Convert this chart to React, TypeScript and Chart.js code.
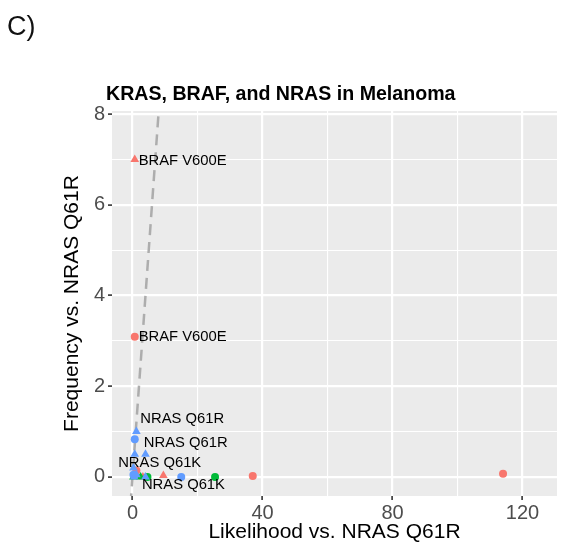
import React, { useEffect, useRef } from "react";
import { Chart, registerables } from "chart.js";

Chart.register(...registerables);

// ---- data ----
const redCircleX = [0.7, 1.2, 37, 114];
const redCircleY = [3.09, 0.14, 0.02, 0.07];
const redTriangleX = [0.7, 3.2, 9.5];
const redTriangleY = [7.0, 0.0, 0.03];
const greenCircleX = [4.6, 25.4];
const greenCircleY = [0.0, 0.0];
const greenTriangleX = [2.5, 0.3];
const greenTriangleY = [0.0, 0.0];
const blueCircleX = [0.7, 15, 0.3];
const blueCircleY = [0.83, 0.0, 0.05];
const blueTriangleX = [1.2, 0.7, 4.0, 0.3, 0.5, 4.0, 1.2];
const blueTriangleY = [1.0, 0.5, 0.5, 0.2, 0.0, 0.0, 0.05];

const labelText = ["BRAF V600E", "BRAF V600E", "NRAS Q61R", "NRAS Q61R", "NRAS Q61K", "NRAS Q61K"];
const labelX = [1.9, 1.9, 2.4, 3.5, -4.4, 2.9];
const labelY = [6.98, 3.09, 1.29, 0.755, 0.3, -0.18];

const refLineX = [-1, 9];
const refLineY = [-1, 9];

const xTicks = [0, 20, 40, 60, 80, 100, 120];
const xMajor = [0, 40, 80, 120];
const yTicks = [0, 1, 2, 3, 4, 5, 6, 7, 8];
const yMajor = [0, 2, 4, 6, 8];

const title = "KRAS, BRAF, and NRAS in Melanoma";
const panelLabel = "C)";
const xTitle = "Likelihood vs. NRAS Q61R";
const yTitle = "Frequency vs. NRAS Q61R";

const RED = "#F8766D";
const GREEN = "#00BA38";
const BLUE = "#619CFF";
const FONT = "'Liberation Sans', Arial, Helvetica, sans-serif";

const zip = (xs: number[], ys: number[]) => xs.map((x, i) => ({ x, y: ys[i] }));

export default function App() {
  const ref = useRef<HTMLCanvasElement | null>(null);

  useEffect(() => {
    if (!ref.current) return;

    const bgPlugin = {
      id: "panelBg",
      beforeDraw(chart: any) {
        const { ctx, chartArea } = chart;
        ctx.save();
        ctx.fillStyle = "#FFFFFF";
        ctx.fillRect(0, 0, chart.width, chart.height);
        ctx.fillStyle = "#EBEBEB";
        ctx.fillRect(chartArea.left, chartArea.top, chartArea.right - chartArea.left, chartArea.bottom - chartArea.top);
        ctx.fillStyle = "#111111";
        ctx.font = `27px ${FONT}`;
        ctx.textBaseline = "alphabetic";
        ctx.textAlign = "left";
        ctx.fillText(panelLabel, 7, 35);
        ctx.fillStyle = "#000000";
        ctx.font = `bold 19.6px ${FONT}`;
        ctx.fillText(title, 106, 100);
        ctx.restore();
      },
    };

    const labelPlugin = {
      id: "pointLabels",
      afterDatasetsDraw(chart: any) {
        const { ctx } = chart;
        const xs = chart.scales.x;
        const ys = chart.scales.y;
        ctx.save();
        ctx.fillStyle = "#000000";
        ctx.font = `14.8px ${FONT}`;
        ctx.textAlign = "left";
        ctx.textBaseline = "middle";
        labelText.forEach((t, i) => {
          ctx.fillText(t, xs.getPixelForValue(labelX[i]), ys.getPixelForValue(labelY[i]));
        });
        ctx.restore();
      },
    };

    const pt = (data: any, color: string, style: string) => ({
      data,
      pointStyle: style,
      pointRadius: style === "triangle" ? 5 : 4,
      pointBackgroundColor: color,
      pointBorderColor: color,
      pointBorderWidth: 0,
      backgroundColor: color,
      borderColor: color,
    });

    const chart = new Chart(ref.current, {
      type: "scatter",
      data: {
        datasets: [
          pt(zip(blueTriangleX, blueTriangleY), BLUE, "triangle"),
          pt(zip(blueCircleX, blueCircleY), BLUE, "circle"),
          pt(zip(greenTriangleX, greenTriangleY), GREEN, "triangle"),
          pt(zip(greenCircleX, greenCircleY), GREEN, "circle"),
          pt(zip(redTriangleX, redTriangleY), RED, "triangle"),
          pt(zip(redCircleX, redCircleY), RED, "circle"),
          {
            data: zip(refLineX, refLineY),
            showLine: true,
            pointRadius: 0,
            borderColor: "#ADADAD",
            borderWidth: 2.5,
            borderDash: [11, 7],
          } as any,
        ],
      },
      options: {
        animation: false,
        responsive: false,
        events: [],
        layout: { padding: { top: 111, right: 1, bottom: 0, left: 0 } },
        plugins: {
          legend: { display: false },
          tooltip: { enabled: false },
          title: { display: false },
        },
        scales: {
          x: {
            type: "linear",
            min: -6.3,
            max: 130.6,
            afterBuildTicks: (s: any) => {
              s.ticks = xTicks.map((v) => ({ value: v }));
            },
            afterFit: (s: any) => {
              s.height = 47;
            },
            border: { display: false },
            grid: {
              color: "#FFFFFF",
              lineWidth: (c: any) => (xMajor.includes(c.tick?.value) ? 2.2 : 1.1),
              tickColor: (c: any) => (xMajor.includes(c.tick?.value) ? "#333333" : "rgba(0,0,0,0)"),
              tickWidth: 1.6,
              tickLength: 4,
            },
            ticks: {
              autoSkip: false,
              maxRotation: 0,
              padding: 1,
              color: "#4D4D4D",
              font: { family: FONT, size: 20 },
              callback: (v: any) => (xMajor.includes(Number(v)) ? String(v) : ""),
            },
            title: {
              display: true,
              text: xTitle,
              color: "#000000",
              font: { family: FONT, size: 21 },
              padding: { top: 0, bottom: -2 },
            },
          },
          y: {
            type: "linear",
            min: -0.42,
            max: 8.07,
            afterBuildTicks: (s: any) => {
              s.ticks = yTicks.map((v) => ({ value: v }));
            },
            afterFit: (s: any) => {
              s.width = 112;
            },
            border: { display: false },
            grid: {
              color: "#FFFFFF",
              lineWidth: (c: any) => (yMajor.includes(c.tick?.value) ? 2.2 : 1.1),
              tickColor: (c: any) => (yMajor.includes(c.tick?.value) ? "#333333" : "rgba(0,0,0,0)"),
              tickWidth: 1.6,
              tickLength: 4,
            },
            ticks: {
              autoSkip: false,
              padding: 3,
              color: "#4D4D4D",
              font: { family: FONT, size: 20 },
              callback: (v: any) => (yMajor.includes(Number(v)) ? String(v) : ""),
            },
            title: {
              display: true,
              text: yTitle,
              color: "#000000",
              font: { family: FONT, size: 21 },
              padding: { top: 60, bottom: 0 },
            },
          },
        },
      },
      plugins: [bgPlugin, labelPlugin],
    });

    return () => chart.destroy();
  }, []);

  return (
    <div style={{ position: "absolute", left: 0, top: 0, width: 562, height: 543 }}>
      <canvas ref={ref} width={562} height={543} style={{ display: "block", width: 562, height: 543 }} />
    </div>
  );
}
